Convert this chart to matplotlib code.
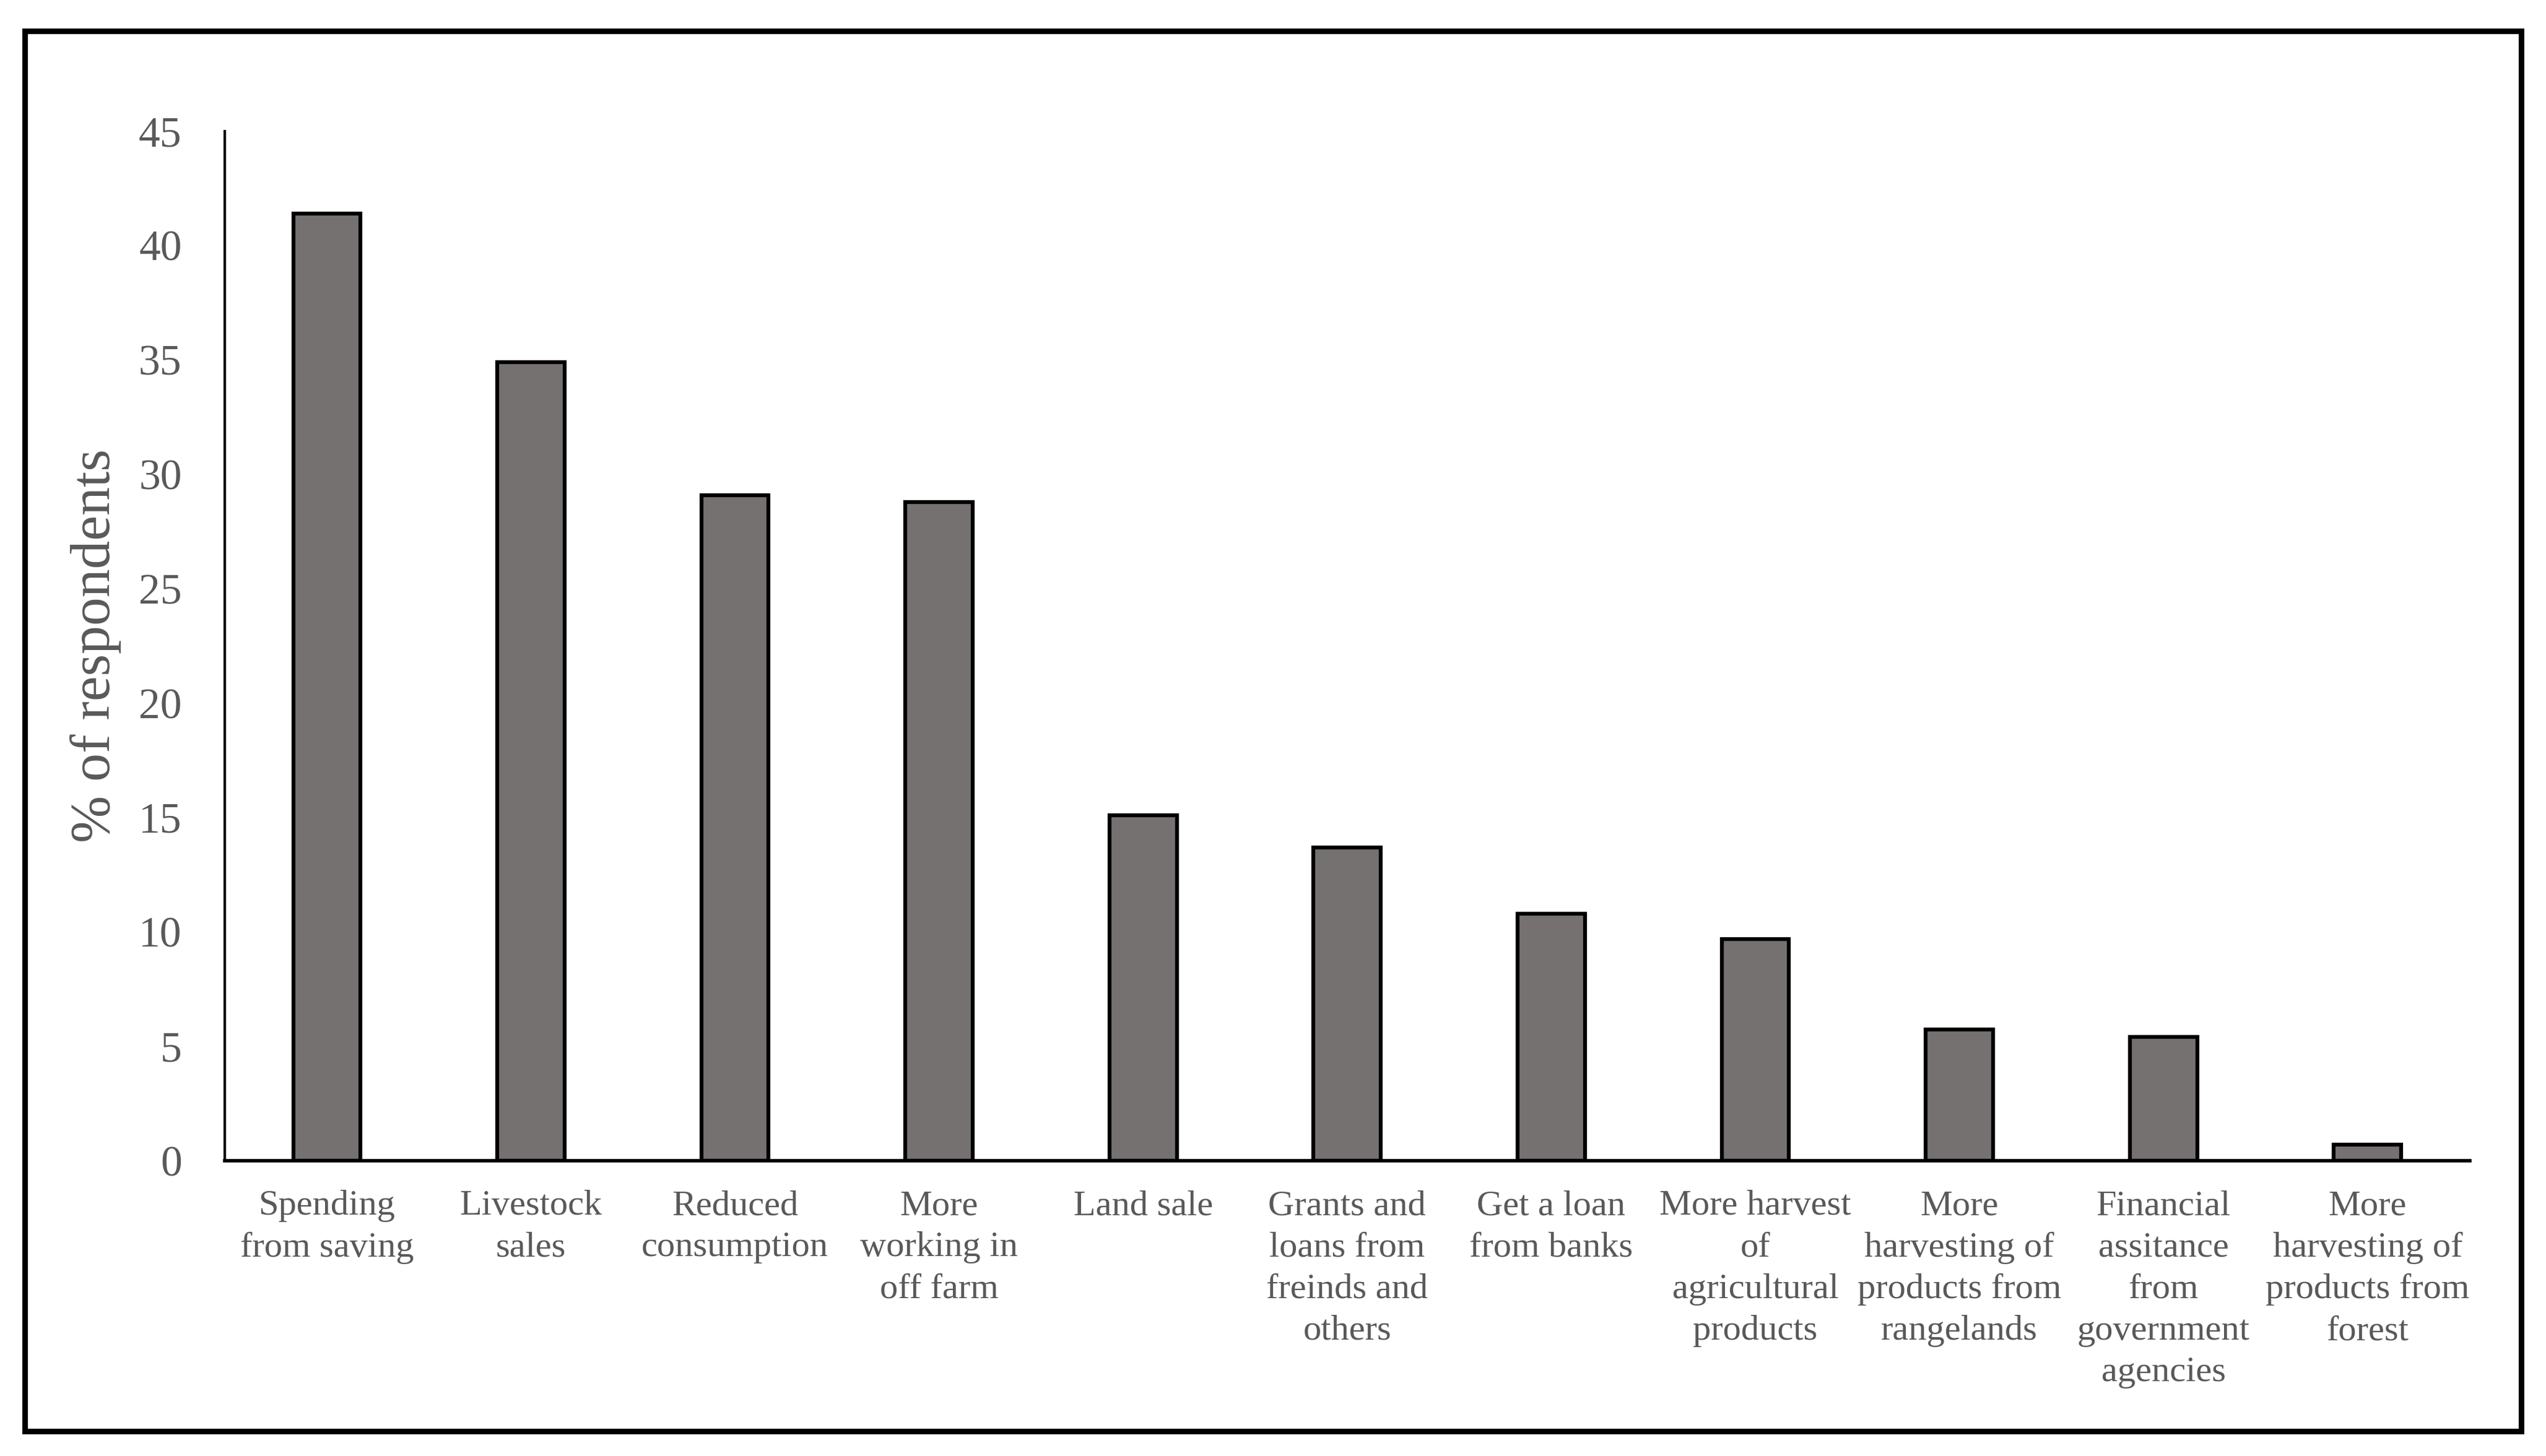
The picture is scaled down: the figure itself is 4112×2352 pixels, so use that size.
import matplotlib.pyplot as plt
from matplotlib.patches import Rectangle

# strategies and share of respondents (%)
strategies = [
    'Spending\nfrom saving',
    'Livestock\nsales',
    'Reduced\nconsumption',
    'More\nworking in\noff farm',
    'Land sale',
    'Grants and\nloans from\nfreinds and\nothers',
    'Get a loan\nfrom banks',
    'More harvest\nof\nagricultural\nproducts',
    'More\nharvesting of\nproducts from\nrangelands',
    'Financial\nassitance\nfrom\ngovernment\nagencies',
    'More\nharvesting of\nproducts from\nforest',
]
respondents = [41.4, 34.9, 29.1, 28.8, 15.1, 13.7, 10.8, 9.7, 5.75, 5.4, 0.7]
yticks = [0, 5, 10, 15, 20, 25, 30, 35, 40, 45]

plt.rcParams['font.family'] = ['Liberation Serif', 'DejaVu Serif']
txt = '#595959'

fig = plt.figure(figsize=(41.12, 23.52), dpi=100)
ax = fig.add_axes([0.0883, 0.2028, 0.8817, 0.7071])

x = range(len(strategies))
ax.bar(x, respondents, width=0.33, color='#767171', edgecolor='black', linewidth=4.5, zorder=3)

ax.set_xlim(-0.5, len(strategies) - 0.5)
ax.set_ylim(0, 45)
ax.set_yticks(yticks)
ax.set_yticklabels([str(t) for t in yticks], fontsize=50, color=txt)
ax.set_xticks(list(x))
ax.set_xticklabels(strategies, fontsize=42, color=txt, linespacing=1.38, va='top')
ax.tick_params(axis='y', length=0, pad=50)
ax.tick_params(axis='x', length=0, pad=34)
ax.set_ylabel('% of respondents', fontsize=66, color=txt, labelpad=20)

for s in ['top', 'right']:
    ax.spines[s].set_visible(False)
ax.spines['left'].set_linewidth(3)
ax.spines['bottom'].set_linewidth(4)
ax.spines['bottom'].set_zorder(4)

# outer frame around the whole chart
fig.patches.append(Rectangle((0.0097, 0.017), 0.9805, 0.9617, transform=fig.transFigure,
                             fill=False, edgecolor='black', linewidth=6.5))

fig.savefig('out.png', dpi=100)
